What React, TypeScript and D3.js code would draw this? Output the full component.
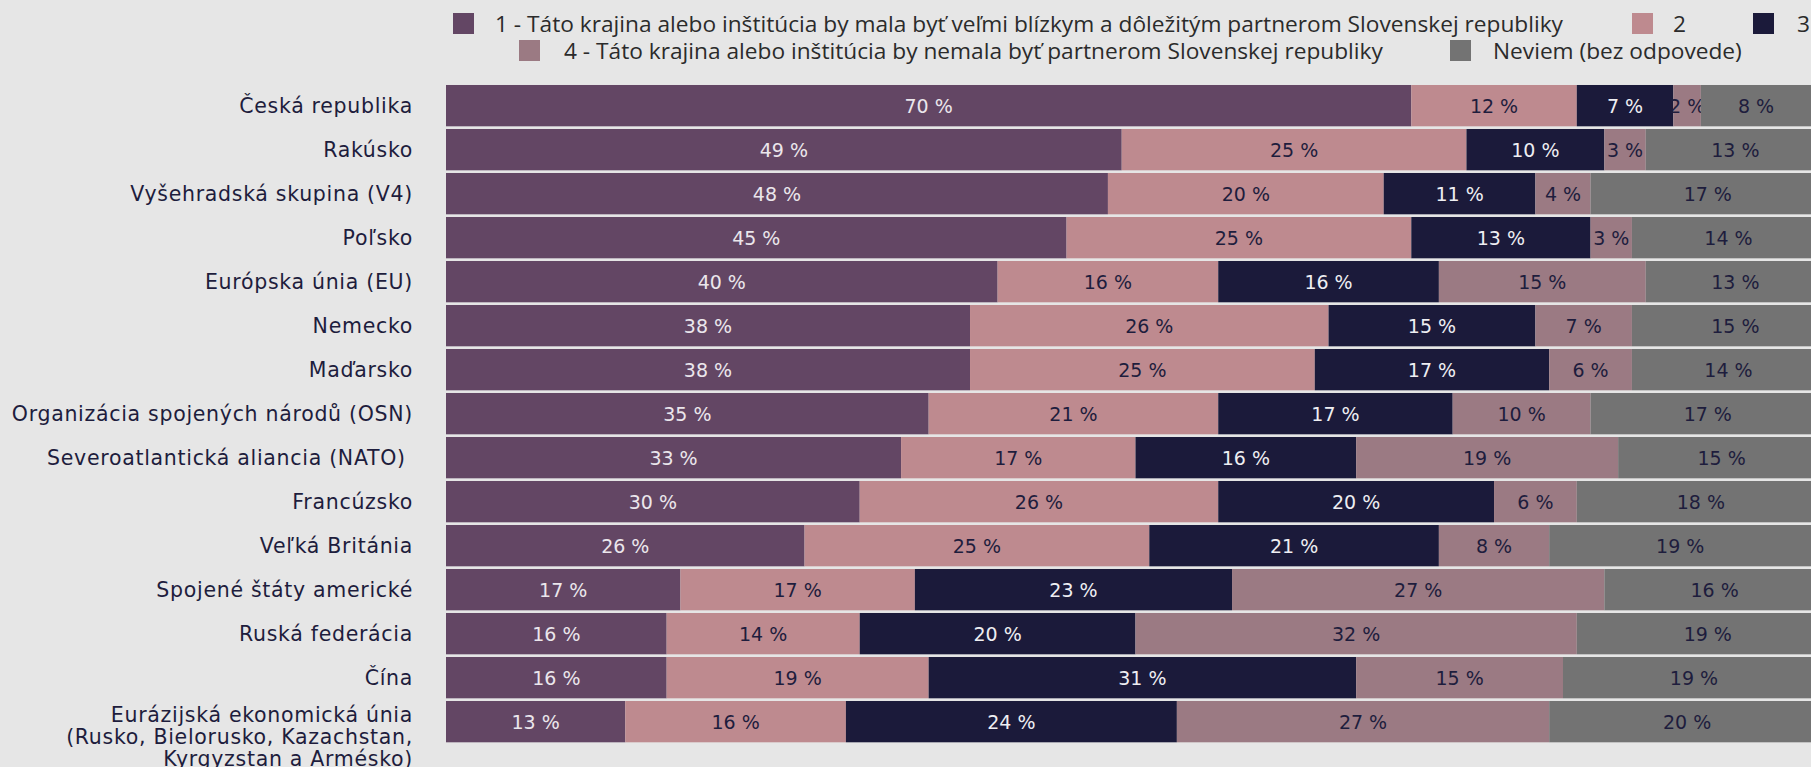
import React, { useEffect, useRef } from 'react';
import * as d3 from 'd3';

// categories (top to bottom); '\n' breaks a label into lines
const categories = [
  'Česká republika',
  'Rakúsko',
  'Vyšehradská skupina (V4)',
  'Poľsko',
  'Európska únia (EU)',
  'Nemecko',
  'Maďarsko',
  'Organizácia spojených národů (OSN)',
  'Severoatlantická aliancia (NATO) ',
  'Francúzsko',
  'Veľká Británia',
  'Spojené štáty americké',
  'Ruská federácia',
  'Čína',
  'Eurázijská ekonomická únia\n(Rusko, Bielorusko, Kazachstan,\nKyrgyzstan a Armésko)',
];

const seriesNames = [
  '1 - Táto krajina alebo inštitúcia by mala byť veľmi blízkym a dôležitým partnerom Slovenskej republiky',
  '2',
  '3',
  '4 - Táto krajina alebo inštitúcia by nemala byť partnerom Slovenskej republiky',
  'Neviem (bez odpovede)',
];

const answer1 = [70, 49, 48, 45, 40, 38, 38, 35, 33, 30, 26, 17, 16, 16, 13];
const answer2 = [12, 25, 20, 25, 16, 26, 25, 21, 17, 26, 25, 17, 14, 19, 16];
const answer3 = [7, 10, 11, 13, 16, 15, 17, 17, 16, 20, 21, 23, 20, 31, 24];
const answer4 = [2, 3, 4, 3, 15, 7, 6, 10, 19, 6, 8, 27, 32, 15, 27];
const neviem = [8, 13, 17, 14, 13, 15, 14, 17, 15, 18, 19, 16, 19, 19, 20];

const seriesValues = [answer1, answer2, answer3, answer4, neviem];
const colors = ['#634664', '#be8a8f', '#1b1a3a', '#9b7a83', '#737373'];
const labelColors = ['#ebe6ec', '#1e1d3d', '#eeeef2', '#1e1d3d', '#1e1d3d'];

const W = 1811;
const H = 767;
const BG = '#e6e6e6';

// legend placement: [square x, text x, row]
const legendLayout = [
  [453, 495, 0],
  [1632, 1673, 0],
  [1753, 1797, 0],
  [519, 564, 1],
  [1450, 1493, 1],
];

type Row = { category: string; [key: string]: number | string };

const App = () => {
  const svgRef = useRef<SVGSVGElement | null>(null);

  useEffect(() => {
    document.body.style.margin = '0';
    document.body.style.background = BG;
    if (!svgRef.current) return;

    const svg = d3.select(svgRef.current);
    svg.selectAll('*').remove();

    svg.append('rect').attr('width', W).attr('height', H).attr('fill', BG);

    const keys = seriesNames.map((_, i) => `s${i}`);
    const table: Row[] = categories.map((c, i) => {
      const row: Row = { category: c };
      keys.forEach((k, j) => (row[k] = seriesValues[j][i]));
      return row;
    });

    const layers = d3
      .stack<Row>()
      .keys(keys)
      .value((d, k) => d[k] as number)(table);

    // the chart runs off the right edge of the picture
    const xScale = d3.scaleLinear().domain([0, 100]).range([446, 1825]);
    const yScale = d3
      .scaleBand()
      .domain(categories)
      .range([83.65, 743.65])
      .paddingInner(0.061)
      .paddingOuter(0.0305);

    // bars
    const chart = svg.append('g');
    layers.forEach((layer, si) => {
      const g = chart.append('g').attr('class', 'series');
      g.selectAll('rect')
        .data(layer)
        .enter()
        .append('rect')
        .attr('x', (d) => xScale(d[0]))
        .attr('y', (d) => yScale(d.data.category)!)
        .attr('width', (d) => xScale(d[1]) - xScale(d[0]))
        .attr('height', yScale.bandwidth())
        .attr('fill', colors[si]);

      g.selectAll('text')
        .data(layer)
        .enter()
        .append('text')
        .attr('x', (d) => (xScale(d[0]) + xScale(d[1])) / 2)
        .attr('y', (d) => yScale(d.data.category)! + yScale.bandwidth() / 2 + 7)
        .attr('text-anchor', 'middle')
        .attr('font-family', '"DejaVu Sans", sans-serif')
        .attr('font-size', 19)
        .attr('fill', labelColors[si])
        .text((d, i) => `${seriesValues[si][i]} %`);
    });

    // category labels
    const catG = svg.append('g');
    categories.forEach((c) => {
      const lines = c.split('\n');
      const cy = yScale(c)! + yScale.bandwidth() / 2;
      const text = catG
        .append('text')
        .attr('text-anchor', 'end')
        .attr('font-family', '"DejaVu Sans", sans-serif')
        .attr('font-size', 20.5)
        .attr('letter-spacing', 0.7)
        .attr('fill', '#1e1d3d')
        .style('white-space', 'pre');
      lines.forEach((line, li) => {
        text
          .append('tspan')
          .attr('x', 413)
          .attr('y', cy + 7 - (lines.length - 1) * 3.5 + li * 22)
          .text(line);
      });
    });

    // legend
    const legend = svg.append('g');
    seriesNames.forEach((name, i) => {
      const [sx, tx, row] = legendLayout[i];
      const top = 13 + row * 27;
      legend
        .append('rect')
        .attr('x', sx)
        .attr('y', top)
        .attr('width', 21)
        .attr('height', 21)
        .attr('fill', colors[i]);
      legend
        .append('text')
        .attr('x', tx)
        .attr('y', top + 19)
        .attr('font-family', '"Open Sans", sans-serif')
        .attr('font-size', 22.7)
        .attr('fill', '#2b2b2b')
        .text(name);
    });
  }, []);

  return <svg ref={svgRef} width={W} height={H} style={{ display: 'block' }} />;
};

export default App;
